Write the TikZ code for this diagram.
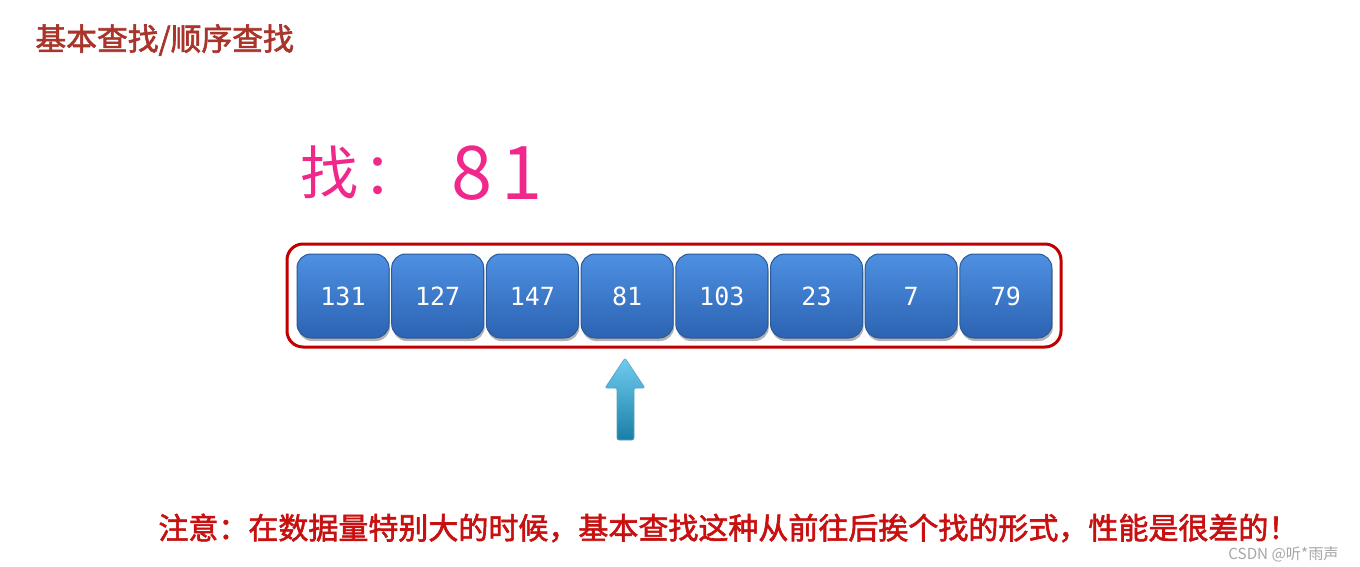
\documentclass[tikz,border=0pt]{standalone}
\usepackage{fontspec}
\newfontfamily\cjk{Noto Sans CJK SC}
\newfontfamily\cjkb{Noto Sans CJK SC}[FakeBold=2]
\newfontfamily\monof{DejaVu Sans Mono}
\definecolor{titlered}{HTML}{A8342A}
\definecolor{pinkc}{HTML}{F0288C}
\definecolor{framered}{HTML}{C00000}
\definecolor{notered}{HTML}{C81010}
\definecolor{boxtop}{HTML}{4E90E2}
\definecolor{boxbot}{HTML}{2C63B2}
\definecolor{boxedge}{HTML}{2B5A98}
\definecolor{arrtop}{HTML}{70CCF0}
\definecolor{arrbot}{HTML}{1A7FA6}
\tikzset{
  cell/.style={rounded corners=7pt, minimum width=46pt, minimum height=42pt,
    draw=boxedge, line width=0.5pt, top color=boxtop, bottom color=boxbot,
    text=white, font=\monof\fontsize{12.5}{12.5}\selectfont, inner sep=0pt},
  cellshadow/.style={rounded corners=7pt, fill=black!30},
  pink/.style={text=pinkc, inner sep=0pt}
}
\begin{document}
\begin{tikzpicture}[x=0.5pt,y=-0.5pt]
\useasboundingbox (0,0) rectangle (1360,567);
\fill[white] (0,0) rectangle (1360,567);
% title
\node[anchor=west, text=titlered, inner sep=0pt, font=\cjkb\fontsize{15.4}{15.4}\selectfont] (title) at (35,40) {基本查找/顺序查找};
% search target
\node[pink, font=\cjk\fontsize{29}{29}\selectfont] (zhao) at (329,172) {找};
\node[pink, font=\cjk\fontsize{29}{29}\selectfont] (colon) at (392,176) {：};
\node[pink, font=\cjk\fontsize{37}{37}\selectfont] (eight) at (472,173) {8};
\node[pink, font=\cjk\fontsize{37}{37}\selectfont] (one) at (522,173) {1};
% frame
\draw[framered, line width=1.5pt, rounded corners=8pt] (287,244) rectangle (1061,347);
% cells
\foreach \v [count=\i] in {131,127,147,81,103,23,7,79}{
  \pgfmathsetmacro{\cx}{343+94.7*(\i-1)}
  \fill[cellshadow] (\cx-45,258) rectangle (\cx+47,341);
  \node[cell] (c\i) at (\cx,296) {\v};
}
% arrow
\shade[top color=arrtop, bottom color=arrbot, draw=arrtop!80!black, line width=0.3pt, rounded corners=1pt]
  (617,440) -- (617,388) -- (605,388) -- (625,358) -- (645,388) -- (634,388) -- (634,440) -- cycle;
\coordinate (arrowtip) at (625,358);
% note
\node[anchor=west, text=notered, inner sep=0pt, font=\cjkb\fontsize{15}{15}\selectfont] (note) at (158,528) {注意：在数据量特别大的时候，基本查找这种从前往后挨个找的形式，性能是很差的！};
% watermark
\node[anchor=west, text=black!35, inner sep=0pt, font=\cjk\fontsize{7.6}{7.6}\selectfont] (wm) at (1228,554) {CSDN @听*雨声};
\end{tikzpicture}
\end{document}
